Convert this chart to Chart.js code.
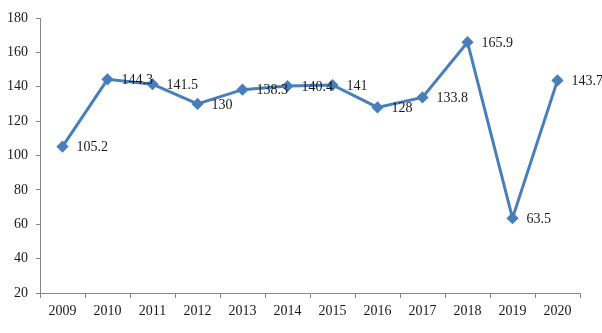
<!DOCTYPE html>
<html>
<head>
<meta charset="utf-8">
<script src="https://cdn.jsdelivr.net/npm/chart.js@4/dist/chart.umd.min.js"></script>
<style>
  html, body { margin: 0; padding: 0; background: #fff; }
  #wrap { width: 602px; height: 333px; }
</style>
</head>
<body>
<div id="wrap"><canvas id="myLineChart"></canvas></div>
<script>
var years = ['2009', '2010', '2011', '2012', '2013', '2014', '2015', '2016', '2017', '2018', '2019', '2020'];
var values = [105.2, 144.3, 141.5, 130, 138.3, 140.4, 141, 128, 133.8, 165.9, 63.5, 143.7];
var yTicks = [20, 40, 60, 80, 100, 120, 140, 160, 180];

var lineColor = '#4a7ebb';
var serif = "'Liberation Serif', 'Times New Roman', serif";

// writes each value just to the right of its point
var valueLabels = {
    id: 'valueLabels',
    afterDatasetsDraw: function (chart) {
        var ctx = chart.ctx;
        var meta = chart.getDatasetMeta(0);
        ctx.save();
        ctx.font = '14px ' + serif;
        ctx.fillStyle = '#1a1a1a';
        ctx.textAlign = 'left';
        ctx.textBaseline = 'middle';
        meta.data.forEach(function (pt, i) {
            ctx.fillText(String(values[i]), pt.x + 14, pt.y + 1);
        });
        ctx.restore();
    }
};

var ctx = document.getElementById('myLineChart').getContext('2d');

var myLineChart = new Chart(ctx, {
    type: 'line',
    data: {
        labels: years,
        datasets: [{
            data: values,
            borderColor: lineColor,
            backgroundColor: lineColor,
            borderWidth: 3,
            pointStyle: 'rectRot',
            pointRadius: 4,
            pointHoverRadius: 4,
            tension: 0,
            fill: false
        }]
    },
    options: {
        responsive: true,
        maintainAspectRatio: false,
        animation: false,
        layout: {
            padding: { top: 18, right: 22, left: 0, bottom: 0 }
        },
        plugins: {
            legend: { display: false },
            tooltip: { enabled: false }
        },
        scales: {
            x: {
                offset: true,
                grid: {
                    offset: true,
                    drawOnChartArea: false,
                    tickLength: 5,
                    color: '#888'
                },
                border: { color: '#888', width: 1 },
                ticks: {
                    color: '#1a1a1a',
                    font: { family: serif, size: 14 },
                    padding: 5,
                    maxRotation: 0
                },
                afterFit: function (scale) { scale.height = 40; }
            },
            y: {
                min: 20,
                max: 180,
                afterBuildTicks: function (scale) {
                    scale.ticks = yTicks.map(function (v) { return { value: v }; });
                },
                grid: {
                    drawOnChartArea: false,
                    tickLength: 4,
                    color: '#888'
                },
                border: { color: '#888', width: 1 },
                ticks: {
                    color: '#1a1a1a',
                    font: { family: serif, size: 14 },
                    padding: 8
                },
                afterFit: function (scale) { scale.width = 40; }
            }
        }
    },
    plugins: [valueLabels]
});
</script>
</body>
</html>
